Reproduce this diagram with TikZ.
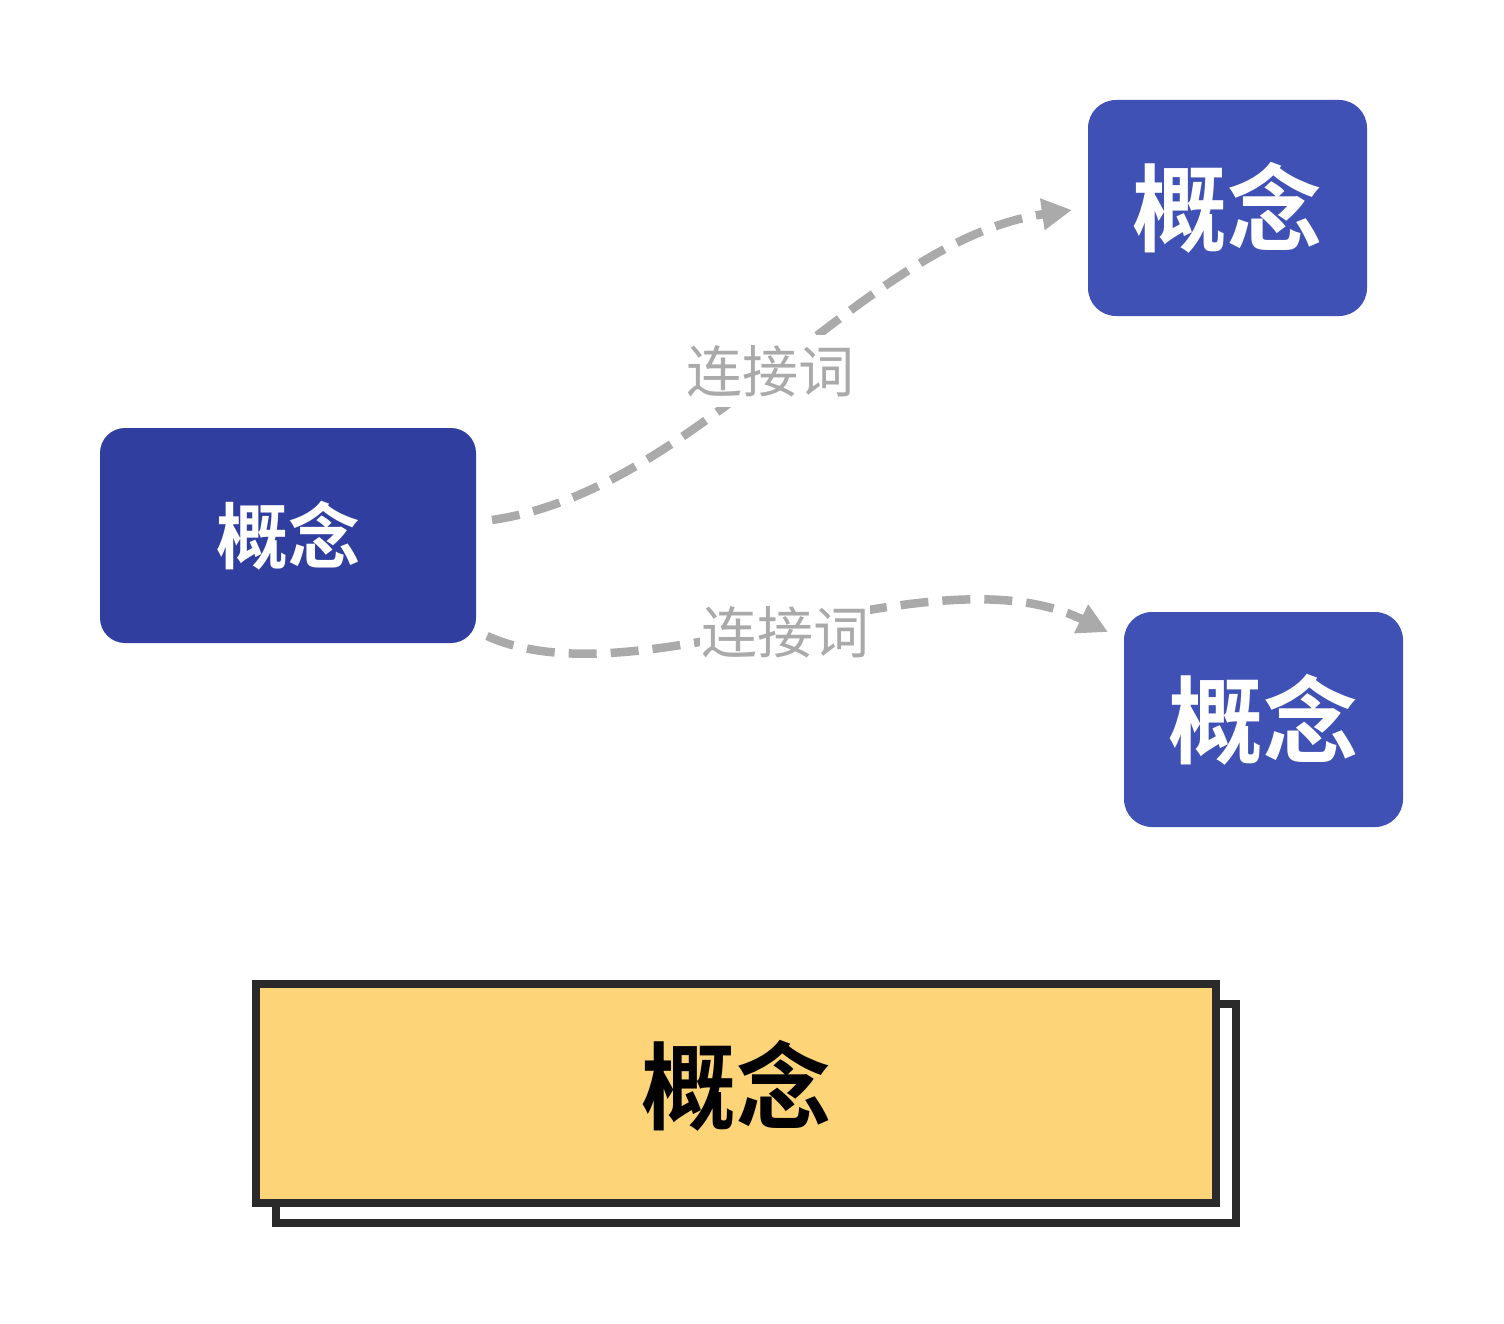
\documentclass[tikz,border=0pt]{standalone}
\usepackage{fontspec}
\newfontfamily\cjk{Noto Sans CJK SC}
\newfontfamily\cjkb{Noto Sans CJK SC Bold}
\usetikzlibrary{arrows.meta}
\definecolor{darkindigo}{HTML}{303F9F}
\definecolor{indigo}{HTML}{3F51B5}
\definecolor{amberfill}{HTML}{FED479}
\definecolor{framegray}{HTML}{2A2A2A}
\definecolor{linkgray}{HTML}{AAAAAA}
\tikzset{
  concept/.style={rounded corners=28pt, inner sep=0pt, text=white, align=center},
  mainbox/.style={draw=framegray, line width=8pt, inner sep=0pt, minimum width=960pt, minimum height=219pt},
  link/.style={draw=linkgray, line width=8.5pt, dash pattern=on 28pt off 14pt, -{Triangle[length=30pt,width=30pt]}},
  linklabel/.style={fill=white, text=linkgray, inner xsep=1pt, inner ysep=2pt, font=\cjk\fontsize{56}{60}\selectfont}
}
\begin{document}
\begin{tikzpicture}[x=1pt,y=-1pt]
\useasboundingbox (0,0) rectangle (1504,1324);
\node[concept, fill=darkindigo, minimum width=376pt, minimum height=215pt, rounded corners=25pt, font=\cjkb\fontsize{72}{76}\selectfont] (left) at (288,535.5) {概念};
\node[concept, fill=indigo, minimum width=279pt, minimum height=216pt, font=\cjkb\fontsize{95}{100}\selectfont] (tr) at (1227.5,208) {概念};
\node[concept, fill=indigo, minimum width=279pt, minimum height=215pt, font=\cjkb\fontsize{95}{100}\selectfont] (br) at (1263.5,719.5) {概念};
\coordinate (s1) at (492,520);
\coordinate (e1) at (1072,210);
\coordinate (s2) at (487,636);
\coordinate (e2) at (1108,632);
\draw[link] (s1) .. controls (700,490) and (864,240) .. node[linklabel, inner ysep=10pt, pos=0.5, xshift=-12pt, yshift=-6pt] (l1) {连接词} (e1);
\draw[link] (s2) .. controls (640,705) and (930,545) .. node[linklabel, pos=0.5, xshift=-3pt, yshift=-5pt] (l2) {连接词} (e2);
\node[mainbox, fill=white] (shadow) at (756,1113.5) {};
\node[mainbox, fill=amberfill] (main) at (736,1093.5) {};
\node[text=black, inner sep=0pt, font=\cjkb\fontsize{95}{100}\selectfont] (maintext) at ([yshift=8pt]main.center) {概念};
\end{tikzpicture}
\end{document}
